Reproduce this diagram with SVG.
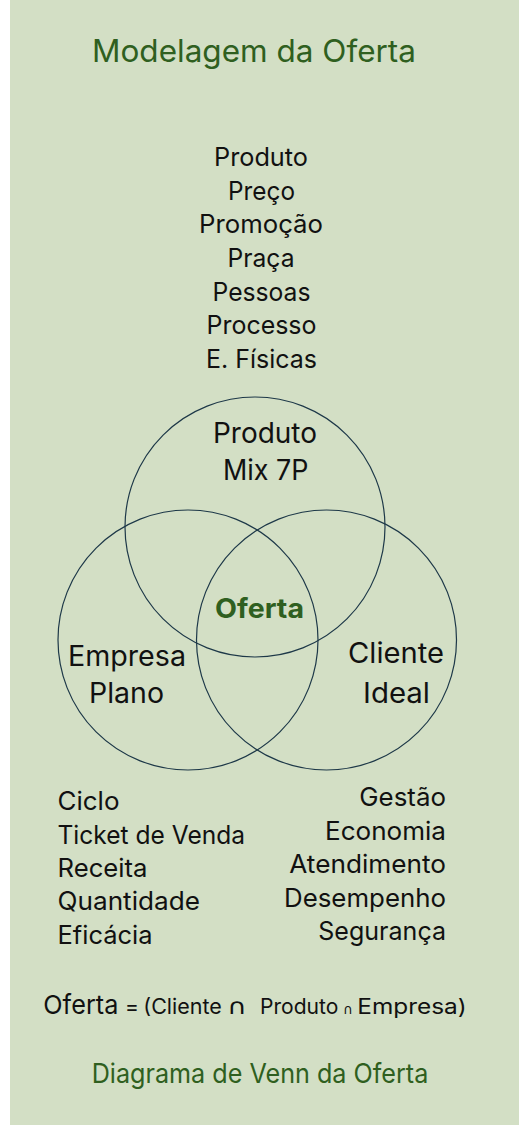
<svg xmlns="http://www.w3.org/2000/svg" width="519" height="1125" viewBox="0 0 519 1125">
<style>
text{font-family:Inter,"Open Sans","Liberation Sans",sans-serif;fill:#111;}
.g{fill:#2f5f20;}
.c{fill:none;stroke:#1d3848;stroke-width:1.2;}
.l{font-size:25.5px;}
.cl{font-size:28px;}
.f{font-size:21px;}
.s{font-family:"DejaVu Sans",sans-serif;}
</style>
<rect width="519" height="1125" fill="#fff"/>
<rect x="10" y="0" width="509" height="1125" fill="#d3dfc5"/>
<text class="g" x="92" y="62" font-size="31" textLength="324" lengthAdjust="spacingAndGlyphs">Modelagem da Oferta</text>
<g id="mix-list" class="l">
<text x="214" y="166" textLength="94" lengthAdjust="spacingAndGlyphs">Produto</text>
<text x="228" y="199.5" textLength="67" lengthAdjust="spacingAndGlyphs">Preço</text>
<text x="199" y="233" textLength="124" lengthAdjust="spacingAndGlyphs">Promoção</text>
<text x="227.5" y="267" textLength="67" lengthAdjust="spacingAndGlyphs">Praça</text>
<text x="212.5" y="300.5" textLength="98" lengthAdjust="spacingAndGlyphs">Pessoas</text>
<text x="206.5" y="334" textLength="110" lengthAdjust="spacingAndGlyphs">Processo</text>
<text x="206" y="368" textLength="111" lengthAdjust="spacingAndGlyphs">E. Físicas</text>
</g>
<g id="circles">
<circle id="produto" class="c" cx="255" cy="527" r="130"/>
<circle id="empresa" class="c" cx="188" cy="640" r="130"/>
<circle id="cliente" class="c" cx="326.5" cy="640" r="130"/>
</g>
<g id="labels" class="cl">
<text x="213" y="443" textLength="104" lengthAdjust="spacingAndGlyphs">Produto</text>
<text x="223" y="480" textLength="85.5" lengthAdjust="spacingAndGlyphs">Mix 7P</text>
<text class="g" x="215" y="618" font-weight="bold" font-size="27" textLength="89" lengthAdjust="spacingAndGlyphs">Oferta</text>
<text x="68" y="666" textLength="118" lengthAdjust="spacingAndGlyphs">Empresa</text>
<text x="89" y="703" textLength="75" lengthAdjust="spacingAndGlyphs">Plano</text>
<text x="348" y="663" textLength="96" lengthAdjust="spacingAndGlyphs">Cliente</text>
<text x="363" y="703" textLength="67" lengthAdjust="spacingAndGlyphs">Ideal</text>
</g>
<g id="empresa-list" class="l">
<text x="57.5" y="810" textLength="62" lengthAdjust="spacingAndGlyphs">Ciclo</text>
<text x="57.5" y="843.5" textLength="187.5" lengthAdjust="spacingAndGlyphs">Ticket de Venda</text>
<text x="57.5" y="877" textLength="90" lengthAdjust="spacingAndGlyphs">Receita</text>
<text x="57.5" y="910" textLength="142.5" lengthAdjust="spacingAndGlyphs">Quantidade</text>
<text x="57.5" y="944" textLength="95" lengthAdjust="spacingAndGlyphs">Eficácia</text>
</g>
<g id="cliente-list" class="l">
<text x="359.3" y="806" textLength="86.7" lengthAdjust="spacingAndGlyphs">Gestão</text>
<text x="325" y="839.5" textLength="121" lengthAdjust="spacingAndGlyphs">Economia</text>
<text x="289.3" y="873" textLength="156.7" lengthAdjust="spacingAndGlyphs">Atendimento</text>
<text x="284" y="907" textLength="162" lengthAdjust="spacingAndGlyphs">Desempenho</text>
<text x="318.3" y="940" textLength="127.7" lengthAdjust="spacingAndGlyphs">Segurança</text>
</g>
<g id="formula">
<text x="43.3" y="1014" font-size="26" textLength="75" lengthAdjust="spacingAndGlyphs">Oferta</text>
<text class="f" x="125" y="1014">=</text>
<text class="f" x="143.3" y="1014" textLength="78.5" lengthAdjust="spacingAndGlyphs">(Cliente</text>
<text class="s" x="227" y="1014" font-size="22" textLength="20" lengthAdjust="spacingAndGlyphs">∩</text>
<text class="f" x="260" y="1014" textLength="78.3" lengthAdjust="spacingAndGlyphs">Produto</text>
<text class="s" x="343" y="1014" font-size="14" textLength="10" lengthAdjust="spacingAndGlyphs">∩</text>
<text class="f" x="357.3" y="1014" textLength="109.4" lengthAdjust="spacingAndGlyphs">Empresa)</text>
</g>
<text class="g" x="91.7" y="1083" font-size="27" textLength="336.6" lengthAdjust="spacingAndGlyphs">Diagrama de Venn da Oferta</text>
</svg>
